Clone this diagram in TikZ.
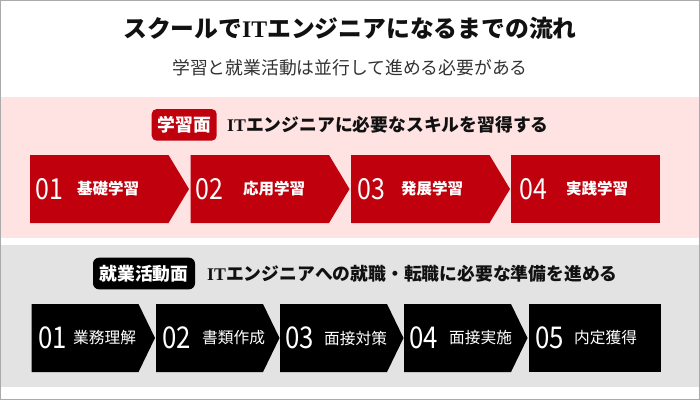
\documentclass[tikz,border=0pt]{standalone}
\usepackage{fontspec}
\usepackage{graphicx}
\setmainfont{Noto Sans CJK JP}
\newfontfamily\serifit{Liberation Serif}
\definecolor{brandred}{HTML}{C0000C}
\definecolor{pinkband}{HTML}{FFE3E3}
\definecolor{grayband}{HTML}{E3E3E3}
\definecolor{framegray}{HTML}{AAAAAA}
\definecolor{titleink}{HTML}{111111}
\definecolor{subink}{HTML}{333333}
\newcommand{\ITword}{{\serifit\bfseries IT}}
\newcommand{\stepnum}[1]{\scalebox{0.86}[1]{#1}}
\tikzset{
  redchev/.style={fill=brandred, draw=none},
  blkchev/.style={fill=black, draw=none},
  numred/.style={anchor=west, inner sep=0pt, text=white, font=\fontsize{29}{29}\selectfont},
  labred/.style={anchor=west, inner sep=0pt, text=white, font=\fontsize{15.5}{16}\selectfont\bfseries},
  numblk/.style={anchor=west, inner sep=0pt, text=white, font=\fontsize{30}{30}\selectfont},
  labblk/.style={anchor=west, inner sep=0pt, text=white, font=\fontsize{15.7}{16}\selectfont},
  heading/.style={anchor=west, inner sep=0pt, text=titleink, font=\fontsize{17.8}{18}\selectfont\bfseries},
  badgetext/.style={inner sep=0pt, text=white, font=\fontsize{17.8}{18}\selectfont\bfseries},
}
\begin{document}
\begin{tikzpicture}[x=1pt,y=-1pt]
\useasboundingbox (0,0) rectangle (700,400);
\fill[white] (0,0) rectangle (700,400);
% bands
\fill[pinkband] (1,97) rectangle (699,238);
\fill[grayband] (1,245) rectangle (699,387);
\draw[framegray, line width=1pt] (0.5,0.5) rectangle (699.5,399.5);
% title
\node[inner sep=0pt, text=titleink, font=\fontsize{23.8}{24}\selectfont\bfseries] (title) at (350,28) {スクールで\ITword エンジニアになるまでの流れ};
\node[inner sep=0pt, text=subink, font=\fontsize{17.8}{18}\selectfont] (subtitle) at (350,68) {学習と就業活動は並行して進める必要がある};
% section 1 header
\fill[brandred, rounded corners=5pt] (151.7,109) rectangle (216.7,140.7);
\node[badgetext] (badgeA) at (184.2,125) {学習面};
\node[heading] (headA) at (227,125) {\ITword エンジニアに必要なスキルを習得する};
% red chevrons
\foreach \x in {30,190.5,351}{
  \fill[redchev] (\x,155) -- (\x+138.5,155) -- (\x+159,189) -- (\x+138.5,223) -- (\x,223) -- cycle;
}
\fill[redchev] (511,155) rectangle (660,223);
\node[numred] (rn1) at (35,189) {\stepnum{01}};
\node[labred] (rl1) at (77,189) {基礎学習};
\node[numred] (rn2) at (195,189) {\stepnum{02}};
\node[labred] (rl2) at (243,189) {応用学習};
\node[numred] (rn3) at (357,189) {\stepnum{03}};
\node[labred] (rl3) at (401,189) {発展学習};
\node[numred] (rn4) at (519,189) {\stepnum{04}};
\node[labred] (rl4) at (566,189) {実践学習};
% section 2 header
\fill[black, rounded corners=6pt] (93,257.7) rectangle (195,289.3);
\node[badgetext] (badgeB) at (144,273.5) {就業活動面};
\node[heading] (headB) at (207,274) {\ITword エンジニアへの就職・転職に必要な準備を進める};
% black chevrons
\foreach \x in {31.5,156,280,404}{
  \fill[blkchev] (\x,304) -- (\x+107,304) -- (\x+123.5,338) -- (\x+107,372) -- (\x,372) -- cycle;
}
\fill[blkchev] (529,304) rectangle (661,372);
\node[numblk] (bn1) at (38,338) {\stepnum{01}};
\node[labblk] (bl1) at (73,338) {業務理解};
\node[numblk] (bn2) at (162,338) {\stepnum{02}};
\node[labblk] (bl2) at (202,338) {書類作成};
\node[numblk] (bn3) at (285,338) {\stepnum{03}};
\node[labblk] (bl3) at (324,338) {面接対策};
\node[numblk] (bn4) at (409,338) {\stepnum{04}};
\node[labblk] (bl4) at (449,338) {面接実施};
\node[numblk] (bn5) at (535,338) {\stepnum{05}};
\node[labblk] (bl5) at (574,338) {内定獲得};
\end{tikzpicture}
\end{document}
